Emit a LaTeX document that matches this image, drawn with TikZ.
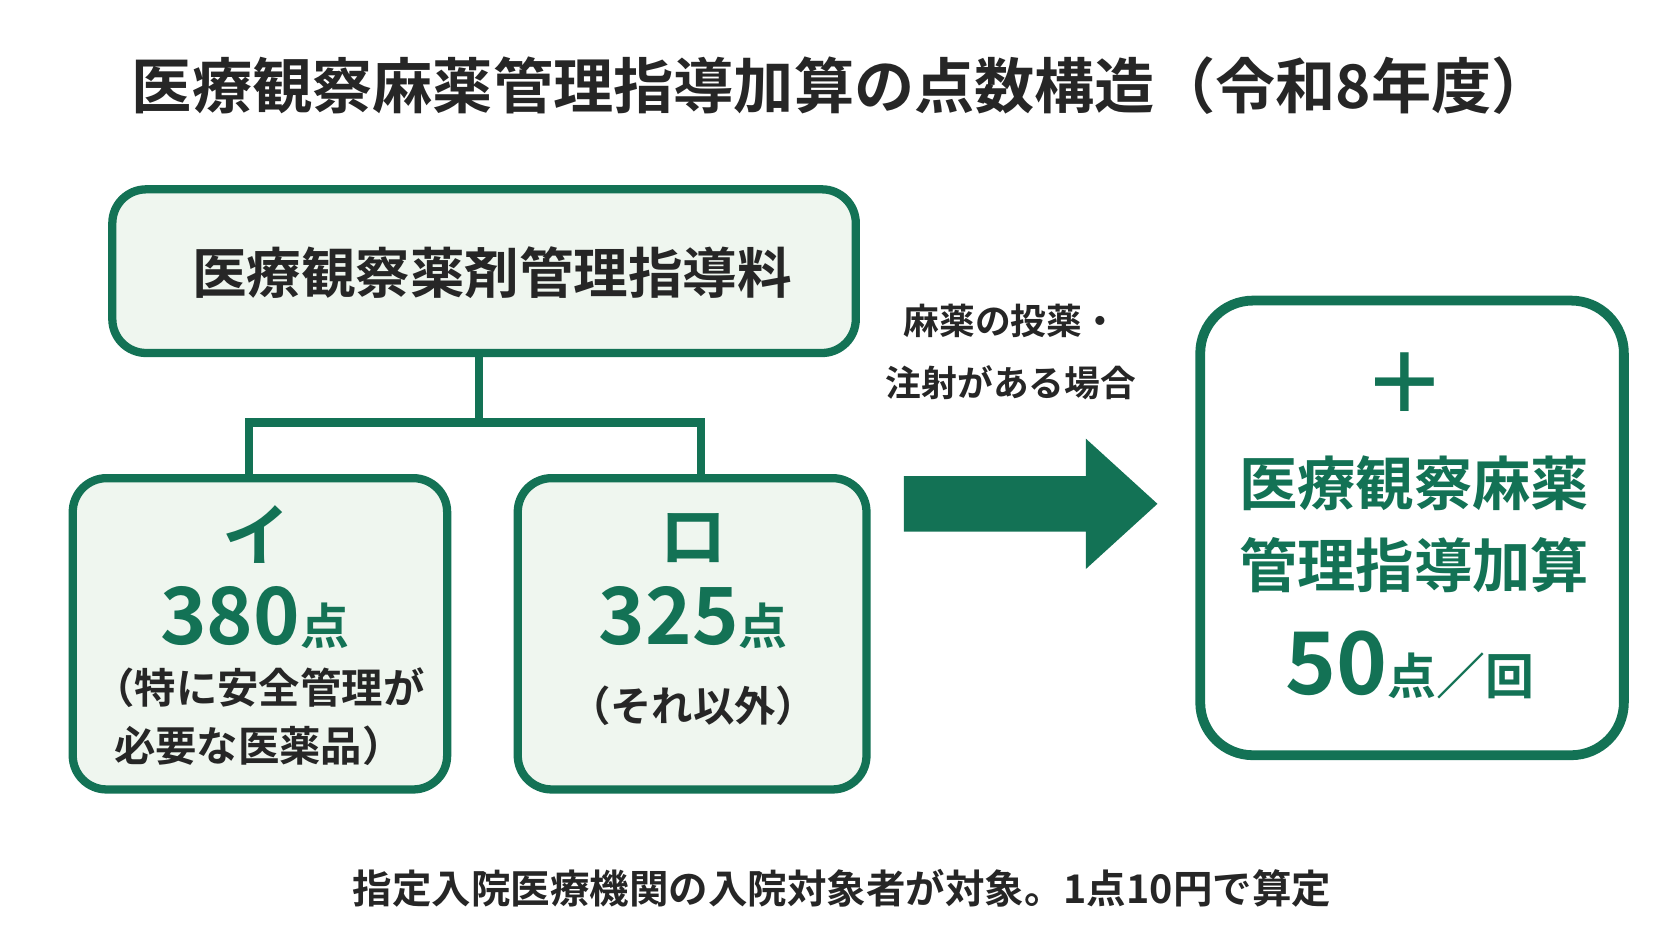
\documentclass[tikz,border=0pt]{standalone}
\usepackage{fontspec}
\setmainfont{Noto Sans CJK JP}[BoldFont={Noto Sans CJK JP Bold}]
\usetikzlibrary{calc}
\definecolor{dkgreen}{HTML}{137255}
\definecolor{paleg}{HTML}{EFF6EF}
\begin{document}
\begin{tikzpicture}[x=0.01cm, y=-0.01cm,
  box/.style={draw=dkgreen, line width=2.2pt, rounded corners=9pt, fill=paleg},
  txt/.style={font=\bfseries, text=black!85, align=center, inner sep=0pt},
  gtxt/.style={font=\bfseries, text=dkgreen, align=center, inner sep=0pt}]

  \useasboundingbox (0,0) rectangle (1563,880);

  % Title
  \node[txt, font=\fontsize{16}{20}\selectfont\bfseries] (title) at (787,80) {医療観察麻薬管理指導加算の点数構造（令和8年度）};

  % Boxes
  \draw[box] (105,177) rectangle (800,330);
  \coordinate (topb) at (448,330);
  \node[txt, font=\fontsize{14.5}{18}\selectfont\bfseries] (main) at (460,255) {医療観察薬剤管理指導料};
  \draw[box] (68,447) rectangle (418,738);
  \coordinate (boxI) at (233,447);
  \draw[box] (484,447) rectangle (810,738);
  \coordinate (boxRo) at (655,447);
  \draw[box, fill=white, line width=2.6pt, rounded corners=14pt] (1122,281) rectangle (1518,706);

  % Tree
  \coordinate (jn) at (448,395);
  \draw[dkgreen, line width=2.2pt] (topb) -- (jn);
  \draw[dkgreen, line width=2.2pt] (boxI) |- (jn) -| (boxRo);

  % Box I
  \node[gtxt, font=\fontsize{18}{20}\selectfont\bfseries] (i) at (240,500) {イ};
  \node[gtxt] (pI) at (238,577) {\fontsize{21}{24}\selectfont 380\fontsize{13}{16}\selectfont 点};
  \node[txt, font=\fontsize{11}{15.4}\selectfont\bfseries] (nI) at (242,670) {（特に安全管理が\\必要な医薬品）};

  % Box Ro
  \node[gtxt, font=\fontsize{18}{20}\selectfont\bfseries] (ro) at (648,503) {ロ};
  \node[gtxt] (pRo) at (648,577) {\fontsize{21}{24}\selectfont 325\fontsize{13}{16}\selectfont 点};
  \node[txt, font=\fontsize{11}{15}\selectfont\bfseries] (nRo) at (648,660) {（それ以外）};

  % Arrow
  \fill[dkgreen] (845,445) -- (1015,445) -- (1015,410) -- (1082,471) -- (1015,532) -- (1015,497) -- (845,497) -- cycle;
  \node[txt, font=\fontsize{9.5}{16.5}\selectfont\bfseries] (cond) at (945,329) {麻薬の投薬・\\注射がある場合};

  % Right box
  \node[gtxt, font=\fontsize{22}{26}\selectfont\bfseries] (plus) at (1313,358) {＋};
  \node[gtxt, font=\fontsize{15.5}{21.6}\selectfont\bfseries] (add) at (1322,490) {医療観察麻薬\\管理指導加算};
  \node[gtxt] (pAdd) at (1318,622) {\fontsize{23}{26}\selectfont 50\fontsize{13}{16}\selectfont 点／回};

  % Footer
  \node[txt, font=\fontsize{10.5}{13}\selectfont\bfseries] (foot) at (787,830) {指定入院医療機関の入院対象者が対象。1点10円で算定};
\end{tikzpicture}
\end{document}
